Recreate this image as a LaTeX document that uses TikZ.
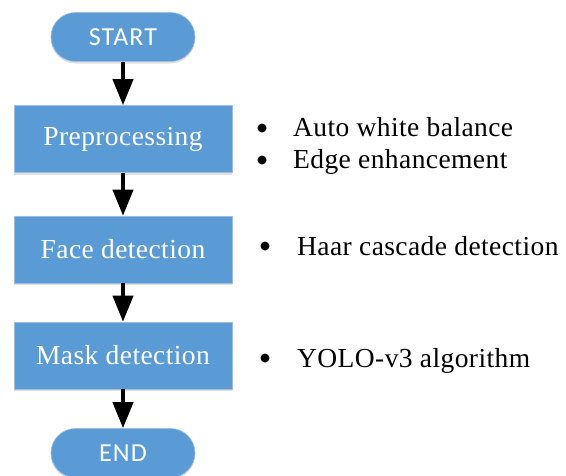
\documentclass[tikz,border=0pt]{standalone}
\usepackage{fontspec}
\setmainfont{Liberation Serif}
\newfontfamily\termfont[LetterSpace=4]{Carlito}
\newfontfamily\notefont[LetterSpace=1.5]{Liberation Serif}
\usetikzlibrary{arrows.meta,shadows}
\definecolor{boxblue}{HTML}{5B9BD5}
\definecolor{boxedge}{HTML}{9DBDE2}
\tikzset{
  terminal/.style={draw=boxedge, line width=0.6pt, fill=boxblue,
    rounded corners=24.5pt, minimum width=144pt, minimum height=49pt,
    inner sep=0pt, text=white, font=\termfont\fontsize{26}{28}\selectfont,
    drop shadow={shadow xshift=0pt, shadow yshift=-2pt, fill=black, opacity=0.12}},
  process/.style={draw=boxedge, line width=0.6pt, fill=boxblue,
    minimum width=218pt, minimum height=67pt, inner sep=0pt, text=white,
    font=\notefont\fontsize{27.5}{30}\selectfont,
    drop shadow={shadow xshift=0pt, shadow yshift=-2pt, fill=black, opacity=0.12}},
  flow/.style={line width=4pt, -{Triangle[width=20pt,length=26pt]}},
  note/.style={anchor=base west, inner sep=0pt, font=\notefont\fontsize{27.5}{30}\selectfont},
  bulletdot/.style={fill=black, draw=none}
}
\begin{document}
\begin{tikzpicture}[x=1pt,y=-1pt]
  \useasboundingbox[fill=white] (0,0) rectangle (566,475);

  % flow chart column
  \node[terminal] (start) at (123,37) {START};
  \node[process] (pre) at (123,139) {Preprocessing};
  \node[process] (face) at (123,249.5) {Face detection};
  \node[process] (mask) at (123,355.5) {Mask detection};
  \node[terminal] (end) at (123,453) {END};

  \draw[flow] (start.south) -- (pre.north);
  \draw[flow] (pre.south) -- (face.north);
  \draw[flow] (face.south) -- (mask.north);
  \draw[flow] (mask.south) -- (end.north);

  % remarks beside each step
  \fill[bulletdot] (262,128) circle (4.5pt);
  \node[note] (n1) at (293,136) {Auto white balance};
  \fill[bulletdot] (262,160) circle (4.5pt);
  \node[note] (n2) at (293,168) {Edge enhancement};
  \fill[bulletdot] (265,246) circle (4.5pt);
  \node[note] (n3) at (297,255) {Haar cascade detection};
  \fill[bulletdot] (265,358) circle (4.5pt);
  \node[note] (n4) at (297,367) {YOLO-v3 algorithm};
\end{tikzpicture}
\end{document}
